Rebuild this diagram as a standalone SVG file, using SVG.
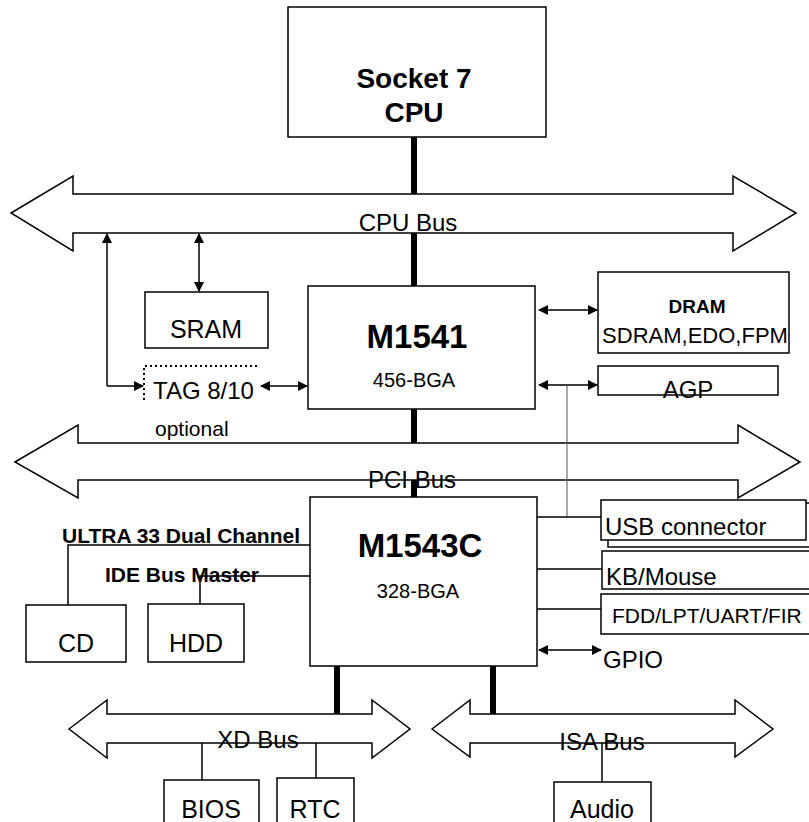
<svg xmlns="http://www.w3.org/2000/svg" width="809" height="822" viewBox="0 0 809 822">
<defs>
<marker id="ah" viewBox="0 0 10 10" refX="9" refY="5" markerWidth="10" markerHeight="10" markerUnits="userSpaceOnUse" orient="auto-start-reverse">
<path d="M0,0 L10,5 L0,10 z" fill="#000"/>
</marker>
<style>
text{font-family:"Liberation Sans",Arial,sans-serif;fill:#000}
.b{font-weight:bold}
.box{fill:#fff;stroke:#000;stroke-width:1.5}
.bus{fill:#fff;stroke:#000;stroke-width:1.5}
.thick{stroke:#000;stroke-width:6;fill:none}
.ln{stroke:#000;stroke-width:1.5;fill:none}
.arr{stroke:#000;stroke-width:1.5;fill:none;marker-end:url(#ah)}
.darr{stroke:#000;stroke-width:1.5;fill:none;marker-start:url(#ah);marker-end:url(#ah)}
</style>
</defs>
<rect width="809" height="822" fill="#fff"/>

<g id="connectors-thick">
<line class="thick" x1="414" y1="137" x2="414" y2="194"/>
<line class="thick" x1="414" y1="233" x2="414" y2="286"/>
<line class="thick" x1="414" y1="409" x2="414" y2="443"/>
<line class="thick" x1="414" y1="480" x2="414" y2="497"/>
<line class="thick" x1="337" y1="666" x2="337" y2="714"/>
<line class="thick" x1="493" y1="666" x2="493" y2="714"/>
</g>

<g id="cpu-bus">
<polygon class="bus" points="11,213 73,176 73,194 733,194 733,176 796,213 733,251 733,233 73,233 73,251"/>
<text x="408" y="231" font-size="24" text-anchor="middle">CPU Bus</text>
</g>

<g id="pci-bus">
<polygon class="bus" points="15,462 78,425 78,443 738,443 738,425 800,462 738,498 738,480 78,480 78,498"/>
<text x="412" y="488" font-size="24" text-anchor="middle">PCI Bus</text>
</g>

<g id="xd-bus">
<polygon class="bus" points="69,729 107,700 107,714 372,714 372,700 410,729 372,758 372,743 107,743 107,758"/>
<text x="258" y="748" font-size="24" text-anchor="middle">XD Bus</text>
</g>

<g id="isa-bus">
<polygon class="bus" points="432,729 470,700 470,714 735,714 735,700 773,729 735,757 735,743 470,743 470,757"/>
<text x="602" y="750" font-size="24" text-anchor="middle">ISA Bus</text>
</g>

<g id="connectors">
<path class="arr" d="M107,386 L107,234"/>
<path class="arr" d="M107,386 L143,386"/>
<path class="darr" d="M199,234 L199,291"/>
<path class="darr" d="M261,386 L307,386"/>
<path class="darr" d="M539,310 L597,310"/>
<path class="darr" d="M539,385 L597,385"/>
<line x1="567" y1="385" x2="567" y2="517" stroke="#555" stroke-width="1"/>
<line class="ln" x1="537" y1="517" x2="601" y2="517"/>
<line class="ln" x1="537" y1="569" x2="602" y2="569"/>
<line class="ln" x1="537" y1="609" x2="601" y2="609"/>
<path class="darr" d="M539,650 L601,650"/>
<path class="ln" d="M310,545 L68,545 L68,605"/>
<path class="ln" d="M310,576 L200,576 L200,604"/>
<line class="ln" x1="202" y1="743" x2="202" y2="780"/>
<line class="ln" x1="316" y1="743" x2="316" y2="778"/>
<line class="ln" x1="602" y1="743" x2="602" y2="782"/>
</g>

<g id="cpu">
<rect class="box" x="288" y="7" width="258" height="130"/>
<text class="b" x="414" y="88" font-size="28" text-anchor="middle">Socket 7</text>
<text class="b" x="414" y="122" font-size="28" text-anchor="middle">CPU</text>
</g>

<g id="sram">
<rect class="box" x="145" y="292" width="123" height="56"/>
<text x="206" y="338" font-size="25" text-anchor="middle">SRAM</text>
</g>

<g id="tag">
<path d="M144,400 L144,366 L260,366" fill="none" stroke="#000" stroke-width="2" stroke-dasharray="2,3"/>
<text x="153" y="399" font-size="24">TAG 8/10</text>
<text x="155" y="436" font-size="21">optional</text>
</g>

<g id="m1541">
<rect class="box" x="308" y="286" width="227" height="123"/>
<text class="b" x="417" y="348" font-size="33" text-anchor="middle">M1541</text>
<text x="414" y="387" font-size="20" text-anchor="middle">456-BGA</text>
</g>

<g id="dram">
<rect class="box" x="598" y="272" width="191" height="81"/>
<text class="b" x="697" y="313" font-size="19" text-anchor="middle">DRAM</text>
<text x="695" y="343" font-size="22" text-anchor="middle">SDRAM,EDO,FPM</text>
</g>

<g id="agp">
<rect class="box" x="598" y="366" width="180" height="29"/>
<text x="688" y="398" font-size="24" text-anchor="middle">AGP</text>
</g>

<g id="m1543c">
<rect class="box" x="310" y="497" width="227" height="169"/>
<text class="b" x="420" y="557" font-size="33" text-anchor="middle">M1543C</text>
<text x="418" y="598" font-size="20" text-anchor="middle">328-BGA</text>
</g>

<g id="usb">
<rect class="box" x="608" y="503" width="206" height="44"/>
<rect class="box" x="601" y="500" width="205" height="40"/>
<text x="605" y="535" font-size="24">USB connector</text>
</g>

<g id="kb">
<rect class="box" x="602" y="551" width="212" height="38"/>
<text x="606" y="585" font-size="24">KB/Mouse</text>
</g>

<g id="fdd">
<rect class="box" x="601" y="594" width="213" height="40"/>
<text x="612" y="623" font-size="21">FDD/LPT/UART/FIR</text>
</g>

<g id="gpio">
<text x="603" y="668" font-size="24">GPIO</text>
</g>

<g id="ide-labels">
<text class="b" x="62" y="543" font-size="21">ULTRA 33 Dual Channel</text>
<text class="b" x="105" y="582" font-size="21">IDE Bus Master</text>
</g>

<g id="cd">
<rect class="box" x="26" y="605" width="100" height="57"/>
<text x="76" y="652" font-size="25" text-anchor="middle">CD</text>
</g>

<g id="hdd">
<rect class="box" x="148" y="604" width="96" height="58"/>
<text x="196" y="652" font-size="25" text-anchor="middle">HDD</text>
</g>

<g id="bios">
<rect class="box" x="164" y="780" width="95" height="60"/>
<text x="211" y="818" font-size="25" text-anchor="middle">BIOS</text>
</g>

<g id="rtc">
<rect class="box" x="277" y="778" width="77" height="60"/>
<text x="315" y="818" font-size="25" text-anchor="middle">RTC</text>
</g>

<g id="audio">
<rect class="box" x="554" y="782" width="97" height="60"/>
<text x="602" y="818" font-size="25" text-anchor="middle">Audio</text>
</g>
</svg>
